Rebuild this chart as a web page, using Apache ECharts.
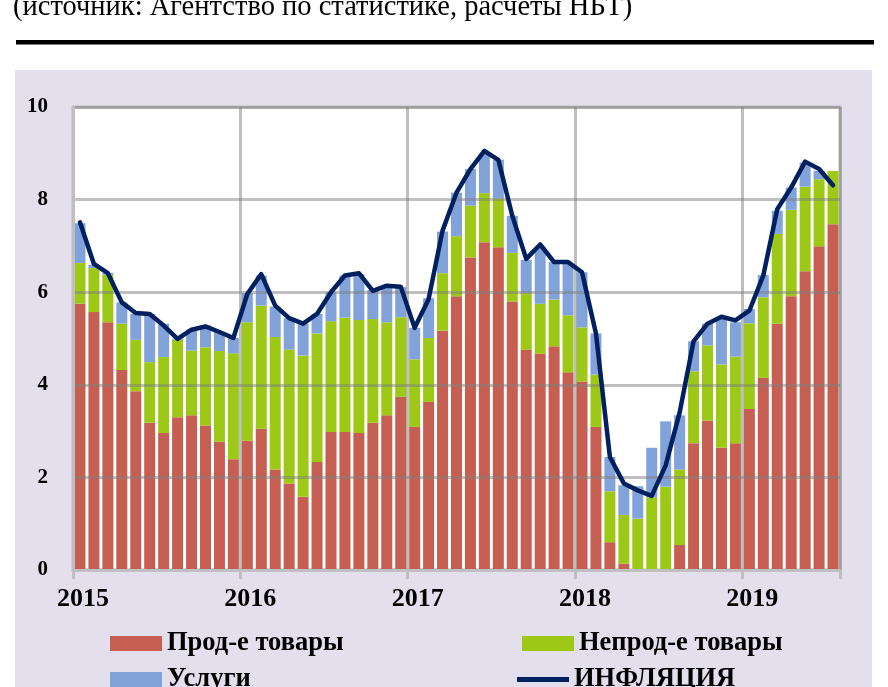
<!DOCTYPE html>
<html>
<head>
<meta charset="utf-8">
<script src="https://cdn.jsdelivr.net/npm/echarts@6/dist/echarts.min.js"></script>
<style>
html,body{margin:0;padding:0;background:#fff;}
#chart{width:888px;height:687px;}
</style>
</head>
<body>
<div id="chart"></div>
<script>
// Months Jan 2015 .. Jul 2019
const months = [];
for (let y = 2015; y <= 2019; y++) {
  for (let m = 1; m <= 12; m++) {
    if (y === 2019 && m > 7) break;
    months.push(y + '-' + (m < 10 ? '0' + m : m));
  }
}
const yearTicks = ['2015', '2016', '2017', '2018', '2019'];

const food = [5.75,5.57,5.35,4.32,3.86,3.18,2.96,3.30,3.34,3.12,2.77,2.39,
  2.79,3.05,2.17,1.87,1.58,2.33,2.98,2.98,2.96,3.18,3.34,3.74,
  3.09,3.63,5.17,5.91,6.75,7.08,6.97,5.80,4.76,4.67,4.83,4.27,
  4.07,3.09,0.60,0.14,-0.05,-0.05,-0.05,0.54,2.74,3.23,2.64,2.74,
  3.48,4.15,5.32,5.91,6.45,6.99,7.47];

const nonfood = [0.88,0.95,1.03,1.00,1.11,1.31,1.64,1.68,1.40,1.69,1.96,2.29,
  2.56,2.66,2.86,2.89,3.05,2.78,2.39,2.47,2.44,2.24,2.01,1.72,
  1.46,1.38,1.24,1.30,1.12,1.06,1.05,1.05,1.22,1.08,1.01,1.23,
  1.17,1.13,1.10,1.05,1.11,1.57,1.80,1.63,1.55,1.62,1.80,1.87,
  1.85,1.74,1.94,1.87,1.83,1.45,1.15];

const services = [0.86,0.07,0.04,0.46,0.56,1.04,0.72,0.02,0.45,0.47,0.41,0.33,
  0.63,0.65,0.66,0.68,0.69,0.42,0.63,0.91,0.99,0.63,0.76,0.65,
  0.68,0.86,0.90,0.94,0.79,0.84,0.84,0.80,0.72,1.22,0.81,1.11,
  1.19,0.89,0.74,0.64,0.70,1.07,1.41,1.17,0.65,0.47,1.02,0.74,
  0.31,0.48,0.50,0.48,0.52,0.18,-0.05];

const inflation = [7.51,6.61,6.41,5.78,5.55,5.53,5.28,4.99,5.19,5.26,5.14,5.01,
  5.96,6.39,5.71,5.44,5.32,5.53,6.00,6.36,6.41,6.03,6.14,6.12,
  5.23,5.85,7.33,8.15,8.66,9.05,8.86,7.65,6.72,7.03,6.65,6.65,
  6.43,5.11,2.44,1.87,1.72,1.60,2.26,3.40,4.94,5.32,5.47,5.39,
  5.60,6.36,7.79,8.26,8.82,8.66,8.31];

const names = ['Прод-е товары', 'Непрод-е товары', 'Услуги', 'ИНФЛЯЦИЯ'];
const colors = ['#C65F52', '#9DC816', '#82A2DA', '#002060'];
const FONT = 'Liberation Serif';

const chart = echarts.init(document.getElementById('chart'), null, {renderer: 'canvas'});

const legendText = {fontFamily: FONT, fontSize: 26.5, fontWeight: 'bold', color: '#000'};
function legendAt(name, left, top, iconH) {
  return {
    data: [name], left: left, top: top, padding: 0, orient: 'horizontal',
    itemWidth: 52, itemHeight: iconH, icon: 'rect', itemGap: 0,
    textStyle: legendText, selectedMode: false
  };
}

chart.setOption({
  animation: false,
  backgroundColor: '#fff',
  graphic: [
    {type: 'rect', z: -10, shape: {x: 15, y: 70, width: 857, height: 620}, style: {fill: '#E4DFEC'}},
    {type: 'rect', z: -5, shape: {x: 16, y: 40, width: 858, height: 4.5}, style: {fill: '#000'}},
    {type: 'text', left: 13, top: -7, style: {text: '(источник: Агентство по статистике, расчеты НБТ)', fontFamily: FONT, fontSize: 28.5, fill: '#000'}}
  ],
  legend: [
    legendAt(names[0], 110, 630, 15),
    legendAt(names[1], 522, 630, 15),
    legendAt(names[2], 110, 666, 15),
    legendAt(names[3], 517, 666, 5)
  ],
  grid: {left: 73, top: 107, width: 767, height: 463, show: true, backgroundColor: '#fff', borderColor: '#BFBFBF', borderWidth: 3},
  xAxis: {
    type: 'category', data: months, boundaryGap: true, z: 3,
    axisLine: {show: true, lineStyle: {color: '#BFBFBF', width: 3}},
    axisTick: {show: true, length: 9, interval: function (i) { return i % 12 === 0; }, lineStyle: {color: '#BFBFBF', width: 3}},
    splitLine: {show: true, interval: function (i) { return i % 12 === 0; }, lineStyle: {color: 'rgba(128,128,128,0.5)', width: 3}},
    axisLabel: {
      interval: function (i) { return i % 12 === 0; },
      formatter: function (v, i) { return yearTicks[Math.floor(i / 12)]; },
      fontFamily: FONT, fontSize: 26, fontWeight: 'bold', color: '#000', margin: 16, padding: [0, 0, 0, 6]
    }
  },
  yAxis: {
    type: 'value', min: 0, max: 10, interval: 2, z: 3,
    axisLine: {show: true, lineStyle: {color: '#BFBFBF', width: 3}},
    axisTick: {show: false},
    splitLine: {show: true, lineStyle: {color: 'rgba(128,128,128,0.5)', width: 3}},
    axisLabel: {fontFamily: FONT, fontSize: 21, fontWeight: 'bold', color: '#000', margin: 25}
  },
  series: [
    {name: names[0], type: 'bar', stack: 'a', data: food, barWidth: 11, itemStyle: {color: colors[0]}, z: 2},
    {name: names[1], type: 'bar', stack: 'a', data: nonfood, barWidth: 11, itemStyle: {color: colors[1]}, z: 2},
    {name: names[2], type: 'bar', stack: 'a', data: services, barWidth: 11, itemStyle: {color: colors[2]}, z: 2},
    {name: names[3], type: 'line', data: inflation, showSymbol: false, symbol: 'none', z: 5,
     itemStyle: {color: colors[3]}, lineStyle: {color: colors[3], width: 4.5, cap: 'round', join: 'round'}}
  ]
});
</script>
</body>
</html>
